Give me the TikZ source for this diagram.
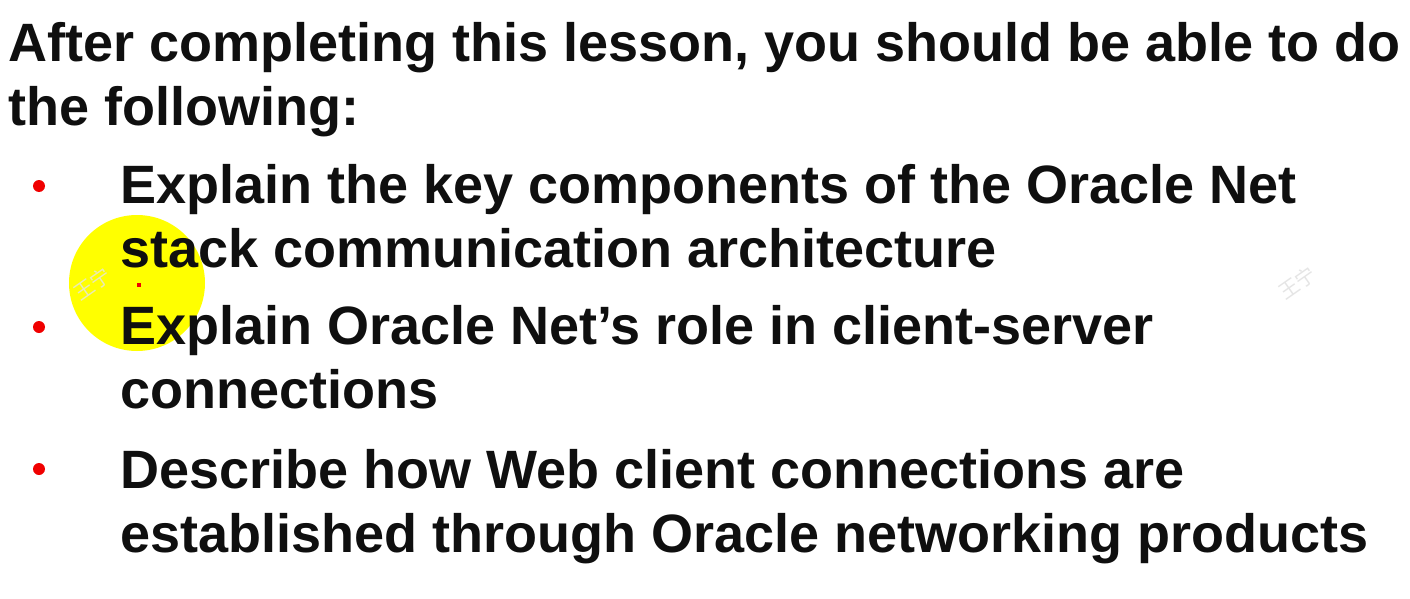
\documentclass[tikz,border=0pt]{standalone}
\usepackage{fontspec}
\setmainfont{Liberation Sans}
\newfontfamily\cjkfont{Noto Sans CJK SC}
\usetikzlibrary{positioning}
\definecolor{hlyellow}{RGB}{255,255,0}
\definecolor{bulletred}{RGB}{240,0,0}
\definecolor{textblack}{RGB}{15,15,15}
\tikzset{
  slidetext/.style={anchor=base west, align=left, inner sep=0pt, text=textblack,
    font=\bfseries\fontsize{54}{64}\selectfont},
  bulletdot/.style={circle, fill=bulletred, minimum size=12pt, inner sep=0pt},
  watermark/.style={text=black!10, rotate=35, inner sep=0pt,
    font=\cjkfont\fontsize{20}{20}\selectfont}
}
\begin{document}
\begin{tikzpicture}[x=1pt,y=-1pt]
  \useasboundingbox[fill=white] (0,0) rectangle (1410,599);
  % highlight %
  \fill[hlyellow] (137,283) circle (68);
  \node[fill=bulletred, minimum size=4pt, inner sep=0pt] (pointer) at (139,285) {};

  % text %
  \node[slidetext, font=\bfseries\fontsize{54}{63}\selectfont] (title) at (8,125)
    {After completing this lesson, you should be able to do\\the following:};
  \node[slidetext] (item1) at (120,267)
    {Explain the key components of the Oracle Net\\stack communication architecture};
  \node[slidetext] (item2) at (120,408)
    {Explain Oracle Net’s role in client-server\\connections};
  \node[slidetext] (item3) at (120,552)
    {Describe how Web client connections are\\established through Oracle networking products};

  % bullets %
  \node[bulletdot] (b1) at (39,186) {};
  \node[bulletdot] (b2) at (39,327) {};
  \node[bulletdot] (b3) at (39,469) {};

  % watermarks %
  \node[watermark, opacity=0.8] (wm1) at (92,284) {王宁};
  \node[watermark] (wm2) at (1297,283) {王宁};
\end{tikzpicture}
\end{document}
